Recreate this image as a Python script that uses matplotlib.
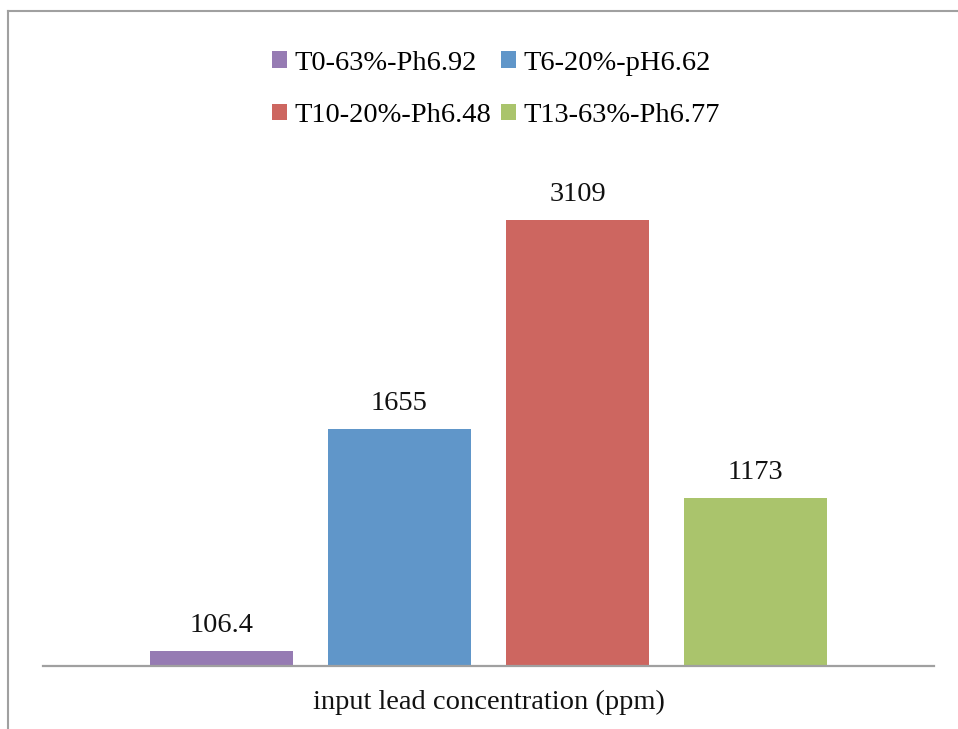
import matplotlib
matplotlib.use('Agg')
from matplotlib import pyplot as plt
from matplotlib.lines import Line2D
from matplotlib.patches import Patch

# lead concentration per treatment
labels = ['T0-63%-Ph6.92', 'T6-20%-pH6.62', 'T10-20%-Ph6.48', 'T13-63%-Ph6.77']
values = [106.4, 1655, 3109, 1173]
value_text = ['106.4', '1655', '3109', '1173']
colors = ['#967BB3', '#6096C9', '#CD6660', '#AAC46C']
xlabel = 'input lead concentration (ppm)'

W, H = 958, 729
FS = 20.5
plt.rcParams['font.family'] = ['Liberation Serif', 'DejaVu Serif']

fig = plt.figure(figsize=(W / 100.0, H / 100.0), dpi=100)
fig.patch.set_facecolor('white')

ax_left, ax_right = 43, 934
ax_bottom, ax_top = 666, 149.4
ax = fig.add_axes([ax_left / W, 1 - ax_bottom / H,
                   (ax_right - ax_left) / W, (ax_bottom - ax_top) / H])

xs = range(len(values))
bars = ax.bar(xs, values, width=0.803, color=colors)
for b, txt in zip(bars, value_text):
    ax.annotate(txt, (b.get_x() + b.get_width() / 2, b.get_height()),
                xytext=(0, 13.5), textcoords='offset points',
                ha='center', va='baseline', fontsize=FS, color='#111111')

ax.set_xlim(-1, 4)
ax.set_ylim(0, 3600)
for side in ['top', 'right', 'left']:
    ax.spines[side].set_visible(False)
ax.spines['bottom'].set_color('#A0A0A0')
ax.spines['bottom'].set_linewidth(1.6)
ax.set_xticks([])
ax.set_yticks([])

fig.text((ax_left + ax_right) / 2 / W, 1 - 709 / H, xlabel,
         ha='center', va='baseline', fontsize=FS, color='#111111')

# legend fills column-wise, so reorder to read across rows
order = [0, 2, 1, 3]
handles = [Patch(facecolor=colors[i], edgecolor='none') for i in order]
fig.legend(handles, [labels[i] for i in order], loc='center', ncol=2,
           bbox_to_anchor=(496 / W, 1 - 89.5 / H), frameon=False,
           fontsize=FS, handlelength=0.53, handleheight=0.53,
           handletextpad=0.25, columnspacing=0.35, labelspacing=0.96)

# outer chart border (left and top edges)
border = dict(color='#A0A0A0', linewidth=1.5, transform=fig.transFigure)
fig.add_artist(Line2D([8 / W, 8 / W], [0, 1 - 11 / H], **border))
fig.add_artist(Line2D([8 / W, 1], [1 - 11 / H, 1 - 11 / H], **border))

fig.savefig('out.png', dpi=100)
